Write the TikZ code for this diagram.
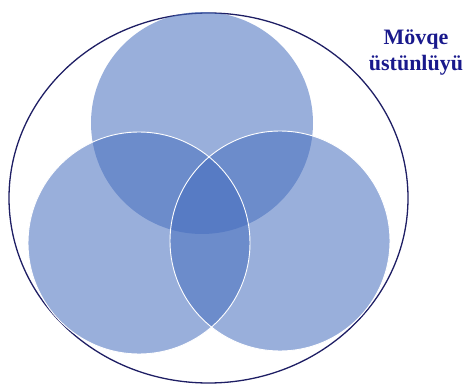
\documentclass[tikz,border=0pt]{standalone}
\usepackage{fontspec}
\setmainfont{Liberation Serif}
\definecolor{vennblue}{RGB}{70,110,190}
\definecolor{rimnavy}{RGB}{30,30,100}
\definecolor{labelnavy}{RGB}{25,25,140}
\tikzset{
  venn/.style={fill=vennblue,fill opacity=0.55},
  rim/.style={draw=white,line width=0.9pt},
  label/.style={font=\fontsize{22}{26}\selectfont\bfseries,text=labelnavy,align=center,inner sep=0pt}
}
\begin{document}
\begin{tikzpicture}[x=1pt,y=-1pt]
\useasboundingbox (0,0) rectangle (468,387);
% outer ellipse
\draw[rimnavy,line width=1.3pt] (208.5,198) ellipse [x radius=199.5, y radius=185];
% three circles
\fill[venn] (202,123) circle [radius=111];
\fill[venn] (139,243) circle [radius=111];
\fill[venn] (280,241) circle [radius=110];
\draw[rim] (139,243) circle [radius=111];
\draw[rim] (280,241) circle [radius=110];
% label
\node[label] (lbl) at (416,53) {Mövqe\\üstünlüyü};
\end{tikzpicture}
\end{document}
